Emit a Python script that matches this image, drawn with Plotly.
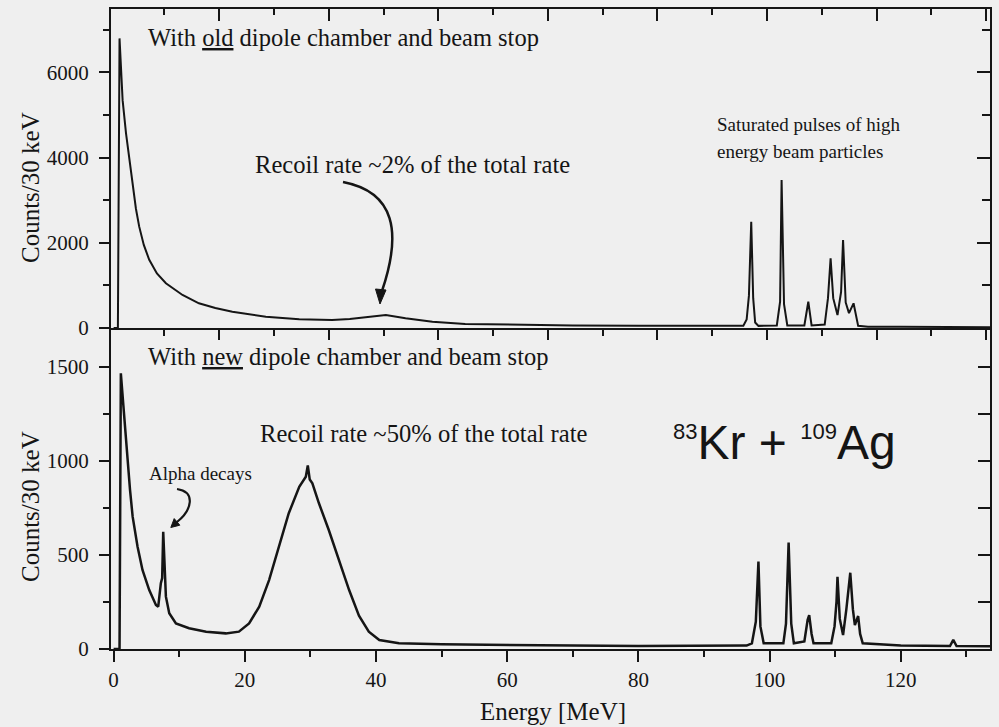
import plotly.graph_objects as go

# ---------------- data ----------------
# Upper panel: old dipole chamber and beam stop
energy_old = [0, 0.65, 0.9, 1.37, 1.89, 2.39, 2.89, 3.4, 3.9, 4.6, 5.43, 6.6, 7.97,
              10.5, 13.0, 15.5, 18.1, 23.2, 28.3, 33.3, 36.0, 38.4, 41.5, 44.5,
              48.6, 53.6, 60, 70, 80, 90, 95.5,
              96.0, 96.5, 96.85, 97.2, 97.5, 97.8, 98.3,
              101.1, 101.6, 101.83, 102.2, 102.7,
              105.3, 105.9, 106.4,
              108.4, 108.9, 109.3, 109.7, 110.35, 110.9, 111.2, 111.6, 112.1,
              112.8, 113.5, 115, 120, 125, 130, 133.6]
counts_old = [0, 0, 6800, 5350, 4570, 3940, 3320, 2800, 2380, 1950, 1600, 1280, 1050,
              775, 580, 470, 383, 265, 204, 188, 210, 250, 305, 227,
              148, 94, 75, 60, 52, 46, 48,
              55, 200, 760, 2495, 700, 130, 50,
              60, 620, 3474, 560, 60,
              60, 617, 60,
              80, 700, 1636, 700, 305, 850, 2066, 600, 350,
              580, 50, 30, 28, 25, 22, 20]

# Lower panel: new dipole chamber and beam stop
energy_new = [0, 0.9, 1.1, 1.48, 2.13, 2.5, 2.9, 3.65, 4.4, 5.43, 6.45, 6.8,
              7.2, 7.4, 7.56, 7.75, 7.97, 8.48, 9.5, 11.5, 14.1, 17.1, 19.1,
              20.65, 22.2, 23.7, 25.2, 26.7, 28.3, 29.3, 29.6, 29.9, 30.3, 31.3,
              32.8, 34.4, 35.9, 37.4, 38.9, 40.5, 43.5, 50, 60, 70, 80, 90, 96.5,
              97.3, 97.9, 98.3, 98.6, 99.1,
              102.1, 102.5, 102.9, 103.3, 103.7,
              105.3, 105.8, 106.04, 106.4, 106.7,
              109.4, 109.9, 110.2, 110.35, 110.7, 111.2, 111.7, 112.3, 112.7,
              113.0, 113.5, 113.8, 114.2, 120, 127.5, 128.0, 128.5, 133.6]
counts_new = [0, 0, 1464, 1287, 986, 845, 703, 543, 420, 313, 234, 225,
              350, 377, 623, 420, 278, 190, 136, 110, 92, 83, 92,
              136, 225, 366, 543, 721, 862, 915, 975, 900, 880, 774,
              632, 473, 313, 177, 92, 48, 30, 25, 20, 18, 16, 15, 18,
              30, 145, 464, 120, 30,
              30, 135, 565, 135, 30,
              40, 155, 180, 80, 30,
              30, 120, 250, 384, 160, 74, 210, 405, 210,
              127, 175, 80, 30, 18, 16, 48, 16, 15]

x_tick_vals = [0, 20, 40, 60, 80, 100, 120]
x_tick_text = ["0", "20", "40", "60", "80", "100", "120"]
y_tick_vals_new = [0, 500, 1000, 1500]
y_tick_text_new = ["0", "500", "1000", "1500"]
y_tick_vals_old = [0, 2000, 4000, 6000]
y_tick_text_old = ["0", "2000", "4000", "6000"]

# ---------------- layout geometry ----------------
W, H = 999, 727
L, R, T, B = 111, 990, 9, 649
SPLIT = 328
split_frac = (B - SPLIT) / (B - T)

BG = "#efefef"
INK = "#151515"
SERIF = "Liberation Serif, Times New Roman, serif"
SANS = "Liberation Sans, Arial, sans-serif"


def P(x, y):
    """figure pixel -> paper coordinates (decorations only)"""
    return (x - L) / (R - L), (B - y) / (B - T)


def path(cmds):
    out = []
    for c, pts in cmds:
        coords = " ".join("%.5f,%.5f" % P(*p) for p in pts)
        out.append(c + " " + coords)
    return " ".join(out)


fig = go.Figure()

fig.add_trace(go.Scatter(x=energy_old, y=counts_old, xaxis="x2", yaxis="y2",
                         mode="lines", line=dict(color=INK, width=2),
                         showlegend=False, hoverinfo="skip"))
fig.add_trace(go.Scatter(x=energy_new, y=counts_new, xaxis="x", yaxis="y",
                         mode="lines", line=dict(color=INK, width=2.5),
                         showlegend=False, hoverinfo="skip"))
# empty helper traces so the mirrored frame axes are drawn
fig.add_trace(go.Scatter(x=[], y=[], xaxis="x", yaxis="y3", showlegend=False, hoverinfo="skip"))
fig.add_trace(go.Scatter(x=[], y=[], xaxis="x4", yaxis="y4", showlegend=False, hoverinfo="skip"))

XR = [-0.4, 133.6]
line_common = dict(showline=True, linecolor=INK, linewidth=2, showgrid=False,
                   zeroline=False, tickcolor=INK, tickwidth=2,
                   tickfont=dict(family=SERIF, size=21, color=INK))

fig.update_layout(
    width=W, height=H,
    margin=dict(l=L, r=W - R, t=T, b=H - B),
    paper_bgcolor=BG, plot_bgcolor=BG,
    showlegend=False,
    xaxis=dict(domain=[0, 1], anchor="y", range=XR, tickmode="array",
               tickvals=x_tick_vals, ticktext=x_tick_text, ticks="outside", ticklen=11,
               minor=dict(tickmode="linear", tick0=0, dtick=10, ticks="outside",
                          ticklen=6, tickcolor=INK, tickwidth=2),
               **line_common),
    yaxis=dict(domain=[0, split_frac], anchor="x", range=[0, 1705], tickmode="array",
               tickvals=y_tick_vals_new, ticktext=y_tick_text_new, ticks="outside",
               ticklen=10, ticklabelstandoff=6,
               minor=dict(tickmode="linear", tick0=0, dtick=250, ticks="outside",
                          ticklen=6, tickcolor=INK, tickwidth=2),
               **line_common),
    yaxis3=dict(overlaying="y", side="right", anchor="x", range=[0, 1705],
                tickmode="array", tickvals=y_tick_vals_new, ticks="inside", ticklen=12,
                showticklabels=False,
                minor=dict(tickmode="linear", tick0=0, dtick=250, ticks="inside",
                           ticklen=12, tickcolor=INK, tickwidth=2),
                **line_common),
    xaxis2=dict(domain=[0, 1], anchor="y2", range=XR, tickmode="linear",
                tick0=-0.6, dtick=16.7, ticks="outside", ticklen=10,
                showticklabels=False,
                minor=dict(tickmode="linear", tick0=-0.6, dtick=8.35, ticks="outside",
                           ticklen=6, tickcolor=INK, tickwidth=2),
                **line_common),
    xaxis4=dict(overlaying="x2", side="top", anchor="y2", range=XR, tickmode="linear",
                tick0=-0.6, dtick=16.7, ticks="inside", ticklen=12,
                showticklabels=False,
                minor=dict(tickmode="linear", tick0=-0.6, dtick=8.35, ticks="inside",
                           ticklen=6, tickcolor=INK, tickwidth=2),
                **line_common),
    yaxis2=dict(domain=[split_frac, 1], anchor="x2", range=[0, 7490], tickmode="array",
                tickvals=y_tick_vals_old, ticktext=y_tick_text_old, ticks="outside",
                ticklen=10, ticklabelstandoff=6,
                minor=dict(tickmode="linear", tick0=0, dtick=1000, ticks="outside",
                           ticklen=6, tickcolor=INK, tickwidth=2),
                **line_common),
    yaxis4=dict(overlaying="y2", side="right", anchor="x2", range=[0, 7490],
                tickmode="array", tickvals=y_tick_vals_old, ticks="inside", ticklen=13,
                showticklabels=False,
                minor=dict(tickmode="linear", tick0=0, dtick=1000, ticks="inside",
                           ticklen=8, tickcolor=INK, tickwidth=2),
                **line_common),
)


def note(text, x, y, size, xanchor="left", family=SERIF, angle=0):
    px_, py_ = P(x, y)
    fig.add_annotation(text=text, x=px_, y=py_, xref="paper", yref="paper",
                       xanchor=xanchor, yanchor="middle", showarrow=False,
                       textangle=angle,
                       font=dict(family=family, size=size, color=INK))


note("With <u>old</u> dipole chamber and beam stop", 146, 38, 24.5)
note("Recoil rate ~2% of the total rate", 253, 164, 24.6)
note("Saturated pulses of high", 715, 124, 19)
note("energy beam particles", 715, 151, 19)
note("With <u>new</u> dipole chamber and beam stop", 146, 356, 24.5)
note("Recoil rate ~50% of the total rate", 258, 433, 24.6)
note("Alpha decays", 147, 473, 19)
note('<sup><span style="font-size:22px">83</span></sup>Kr + '
     '<sup><span style="font-size:22px">109</span></sup>Ag',
     671, 442, 48, family=SANS)
note("Counts/30 keV", 30, 188, 25, xanchor="center", angle=-90)
note("Counts/30 keV", 30, 507, 25, xanchor="center", angle=-90)
note("Energy [MeV]", 553, 711, 25, xanchor="center")

# hand-drawn curved arrows
fig.add_shape(type="path", xref="paper", yref="paper",
              path=path([("M", [(343, 182)]), ("C", [(395, 192), (402, 232), (382, 291)])]),
              line=dict(color=INK, width=2.5))
fig.add_shape(type="path", xref="paper", yref="paper",
              path=path([("M", [(380, 304)]), ("L", [(375.5, 289)]), ("L", [(386, 290)])]) + " Z",
              line=dict(color=INK, width=1), fillcolor=INK)
fig.add_shape(type="path", xref="paper", yref="paper",
              path=path([("M", [(177, 489)]), ("C", [(196, 492), (192, 510), (177, 522)])]),
              line=dict(color=INK, width=2.2))
fig.add_shape(type="path", xref="paper", yref="paper",
              path=path([("M", [(170.8, 527.5)]), ("L", [(179.8, 525.2)]), ("L", [(174.2, 518.6)])]) + " Z",
              line=dict(color=INK, width=1), fillcolor=INK)

fig.write_html("out.html",
               config={"displayModeBar": False},
               post_script="document.body.style.margin='0px';"
                           "document.body.style.background='%s';" % BG)
